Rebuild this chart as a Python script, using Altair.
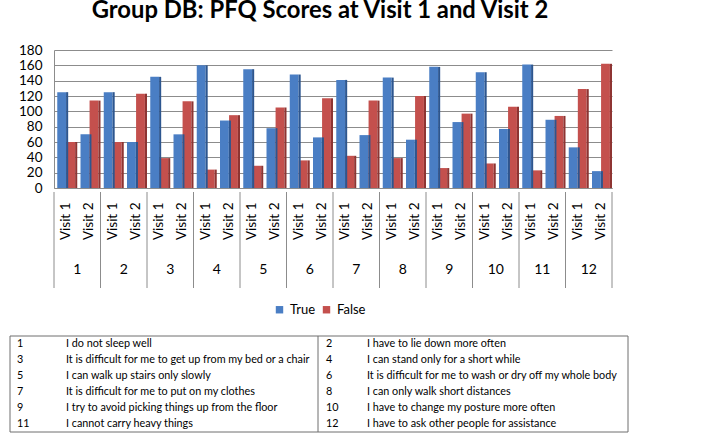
import altair as alt
import pandas as pd

# ---- data ----
questions = list(range(1, 13))
true_visit1 = [125, 125, 145, 160, 155, 148, 141, 144, 158, 151, 161, 53]
false_visit1 = [60, 60, 39, 24, 29, 36, 42, 39, 26, 32, 23, 129]
true_visit2 = [70, 60, 70, 88, 78, 66, 69, 63, 86, 77, 89, 22]
false_visit2 = [114, 123, 113, 95, 105, 117, 114, 120, 97, 106, 94, 162]
series_names = ["True", "False"]
series_colors = ["#4A7EC4", "#C4504D"]
y_ticks = [0, 20, 40, 60, 80, 100, 120, 140, 160, 180]

left_nums = [1, 3, 5, 7, 9, 11]
left_texts = [
    "I do not sleep well",
    "It is difficult for me to get up from my bed or a chair",
    "I can walk up stairs only slowly",
    "It is difficult for me to put on my clothes",
    "I try to avoid picking things up from the floor",
    "I cannot carry heavy things",
]
right_nums = [2, 4, 6, 8, 10, 12]
right_texts = [
    "I have to lie down more often",
    "I can stand only for a short while",
    "It is difficult for me to wash or dry off my whole body",
    "I can only walk short distances",
    "I have to change my posture more often",
    "I have to ask other people for assistance",
]

title_text = "Group DB: PFQ Scores at Visit 1 and Visit 2"

# ---- tables built from the arrays ----
rows = []
for i, q in enumerate(questions):
    rows.append(dict(q=q, visit=1, series="True", value=true_visit1[i]))
    rows.append(dict(q=q, visit=1, series="False", value=false_visit1[i]))
    rows.append(dict(q=q, visit=2, series="True", value=true_visit2[i]))
    rows.append(dict(q=q, visit=2, series="False", value=false_visit2[i]))
df = pd.DataFrame(rows)
dq = pd.DataFrame({"q": questions})
dt = pd.DataFrame({"ln": left_nums, "lt": left_texts, "rn": right_nums, "rt": right_texts})
one = pd.DataFrame({"k": [0]})

W, H = 558, 138
PL, PT = 54, 50
FONT = "Lato"
GRID = "#8c8c8c"

xscale = alt.Scale(domain=[0, 12], nice=False, zero=False)
yscale = alt.Scale(domain=[0, 180], nice=False)
slot_centers = sorted([q - 1 + 0.25 for q in questions] + [q - 1 + 0.75 for q in questions])

bar_base = alt.Chart(df).transform_calculate(
    x0="datum.q - 1 + (datum.visit - 1) * 0.5 + (datum.series == 'True' ? 0.07 : 0.265)"
).transform_calculate(x1="datum.x0 + 0.19", x2s="datum.x0 + 0.235")

bars = bar_base.mark_rect().encode(
    x=alt.X(
        "x0:Q",
        scale=xscale,
        title=None,
        axis=alt.Axis(
            values=slot_centers,
            labelExpr="(datum.value % 1) < 0.5 ? 'Visit 1' : 'Visit 2'",
            labelAngle=270,
            labelAlign="right",
            labelBaseline="middle",
            labelFontSize=13.5,
            labelColor="#000000",
            labelPadding=14,
            labelOverlap=False,
            labelFlush=False,
            ticks=False,
            grid=False,
            domain=True,
            domainColor=GRID,
        ),
    ),
    x2="x1:Q",
    y=alt.Y(
        "value:Q",
        scale=yscale,
        title=None,
        axis=alt.Axis(
            values=y_ticks,
            labelFontSize=13.5,
            labelColor="#000000",
            labelPadding=12,
            labelOverlap=False,
            ticks=False,
            grid=True,
            gridColor=GRID,
            domain=True,
            domainColor=GRID,
        ),
    ),
    y2=alt.Y2(datum=0),
    color=alt.Color(
        "series:N",
        sort=series_names,
        scale=alt.Scale(domain=series_names, range=series_colors),
        legend=alt.Legend(
            orient="none",
            direction="horizontal",
            legendX=219,
            legendY=253,
            title=None,
            symbolType="square",
            symbolSize=55,
            symbolStrokeWidth=0,
            labelFontSize=13,
            labelColor="#000000",
            columnPadding=4,
        ),
    ),
)

sides = bar_base.transform_calculate(
    sc="datum.series == 'True' ? '#2D568F' : '#8E3432'"
).mark_rect().encode(
    x=alt.X("x1:Q", scale=xscale, axis=None),
    x2="x2s:Q",
    y=alt.Y("value:Q", scale=yscale, axis=None),
    y2=alt.Y2(datum=0),
    color=alt.Color("sc:N", scale=None, legend=None),
)

seps = (
    alt.Chart(dq)
    .transform_calculate(b="datum.q - 1")
    .mark_rule(color=GRID, strokeWidth=1)
    .encode(x=alt.X("b:Q", scale=xscale, axis=None), y=alt.value(H + 4), y2=alt.value(H + 100))
)
sep_end = (
    alt.Chart(dq)
    .transform_filter(f"datum.q == {questions[-1]}")
    .mark_rule(color=GRID, strokeWidth=1)
    .encode(x=alt.X("q:Q", scale=xscale, axis=None), y=alt.value(H + 4), y2=alt.value(H + 100))
)
nums = (
    alt.Chart(dq)
    .transform_calculate(c="datum.q - 0.5")
    .mark_text(fontSize=14, color="#000000", baseline="middle")
    .encode(x=alt.X("c:Q", scale=xscale, axis=None), y=alt.value(220), text="q:N")
)

# ---- item table below the chart ----
TY0, TY1 = 286, 382
box = alt.Chart(one).mark_rect(fill=None, stroke="#6e6e6e", strokeWidth=1).encode(
    x=alt.value(-44), x2=alt.value(574), y=alt.value(TY0), y2=alt.value(TY1)
)
divider = alt.Chart(one).mark_rule(color="#6e6e6e", strokeWidth=1).encode(
    x=alt.value(264), y=alt.value(TY0), y2=alt.value(TY1)
)
rowscale = alt.Scale(type="point", domain=left_nums, range=[294, 374], padding=0)
tbase = alt.Chart(dt).mark_text(align="left", baseline="middle", fontSize=10.8, color="#000000")
t_ln = tbase.encode(x=alt.value(-37), y=alt.Y("ln:O", scale=rowscale, axis=None), text="ln:N")
t_lt = tbase.encode(x=alt.value(12), y=alt.Y("ln:O", scale=rowscale, axis=None), text="lt:N")
t_rn = tbase.encode(x=alt.value(272), y=alt.Y("ln:O", scale=rowscale, axis=None), text="rn:N")
t_rt = tbase.encode(x=alt.value(313), y=alt.Y("ln:O", scale=rowscale, axis=None), text="rt:N")

chart = (
    alt.layer(bars, sides, seps, sep_end, nums, box, divider, t_ln, t_lt, t_rn, t_rt)
    .resolve_scale(y="independent")
    .resolve_axis(x="independent", y="independent")
    .properties(
        width=W,
        height=H,
        title=alt.TitleParams(
            title_text,
            fontSize=23.8,
            fontWeight="bold",
            font=FONT,
            color="#000000",
            anchor="middle",
            dx=-13,
            offset=20,
        ),
        autosize=alt.AutoSizeParams(type="none"),
        padding={"left": PL, "top": PT, "right": 728 - PL - W, "bottom": 434 - PT - H},
        background="#ffffff",
    )
    .configure(font=FONT)
    .configure_view(stroke=None)
)

chart.save("out.html", embed_options={"renderer": "svg", "actions": False})
